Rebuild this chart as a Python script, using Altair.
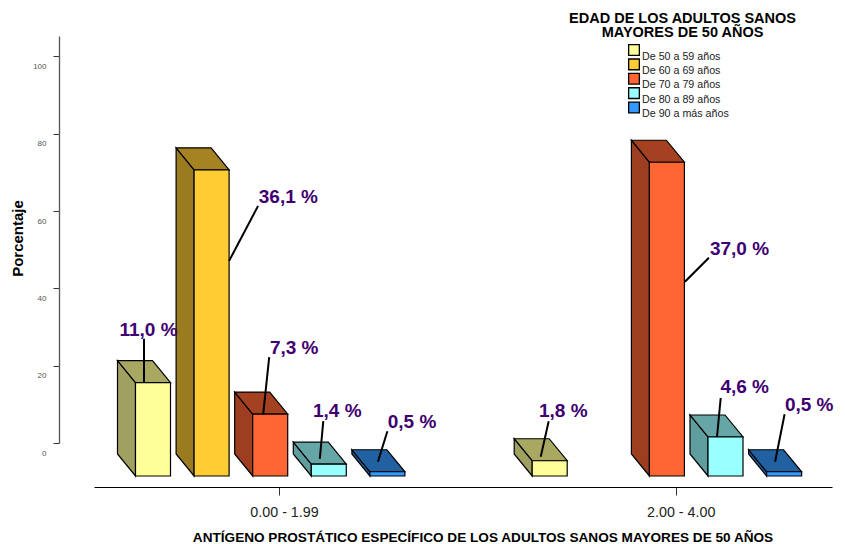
import altair as alt
import pandas as pd

# Percentages per PSA range and age band (None = no bar in that band)
AGE_BANDS = ["De 50 a 59 años", "De 60 a 69 años", "De 70 a 79 años", "De 80 a 89 años", "De 90 a más años"]
PSA_RANGES = ["0.00 - 1.99", "2.00 - 4.00"]
VALUES_LOW = [11.0, 36.1, 7.3, 1.4, 0.5]
VALUES_HIGH = [1.8, None, 37.0, 4.6, 0.5]
AXIS_TICKS = [0, 20, 40, 60, 80, 100]

# Face colours per age band
FRONT = ["#FFFF99", "#FFCC33", "#FF6633", "#99FFFF", "#3399FF"]
SIDE = ["#A0A060", "#9B7B1F", "#9C3E1F", "#5F9E9E", "#1F5F9E"]
TOP = ["#A8A862", "#A58222", "#A34121", "#66A6A6", "#2161A1"]

# Layout of the plot, in plot pixels
PLOT_W, PLOT_H = 786, 487
X_RANGE = [35, 773]
GROUP_TICK = [220.0, 616.7]
FIRST_SLOT = [76.5, 473.2]
SLOT_PITCH = 58.6
BAR_W = 35
DEPTH_X, DEPTH_Y = 18, 22
BASE_Y = 476
PX_PER_PCT = 8.48
KEY_SWATCH_X, KEY_TEXT_X = 575, 583
KEY_ROW_LAST = len(AGE_BANDS) - 1

# Leader lines: start and end offsets from each bar's front top-left corner (dx, dy)
LEADERS_LOW = [((8.5, 0), (8.5, -44)), ((35, 91), (64, 36)), ((10.5, 0), (16.5, -57)),
               ((8.5, -5.3), (12, -43)), ((8, -10), (17.5, -40.5))]
LEADERS_HIGH = [((8.5, -4), (16.5, -39.5)), None, ((35.5, 119.5), (59.5, 95.5)),
                ((9, 0), (12.7, -39)), ((8.5, -10), (18, -57.5))]
# Label left-centre offset from the leader's far end (dx, dy)
LABEL_GAP = [[(-24.5, -8.5), (0.7, -9.3), (0.7, -9), (-10.3, -10), (0.3, -9.6)],
             [(-9.7, -10.7), None, (1, -8.7), (-0.3, -10.6), (0.3, -9.6)]]

x_scale = alt.Scale(domain=X_RANGE, range=X_RANGE)
y_bar = alt.Scale(domain=[0, BASE_Y / PX_PER_PCT], range=[BASE_Y, 0])
y_axis_scale = alt.Scale(domain=[0, 105.3], range=[443, 36])
key_swatch_y = alt.Scale(domain=[0, KEY_ROW_LAST], range=[50, 107.5])
key_text_y = alt.Scale(domain=[0, KEY_ROW_LAST], range=[56.5, 114])

label_test = f"datum.value < 400 ? '{PSA_RANGES[0]}' : '{PSA_RANGES[1]}'"
x_axis = alt.Axis(
    values=GROUP_TICK, labelExpr=label_test, grid=False,
    title="ANTÍGENO PROSTÁTICO ESPECÍFICO DE LOS ADULTOS SANOS MAYORES DE 50 AÑOS",
    titleFont="Liberation Sans", titleFontSize=13.6, titleFontWeight="bold", titleColor="#000",
    titleX=423.5, titleY=50, titleBaseline="middle", titleAnchor="middle",
    labelFont="Liberation Sans", labelFontSize=14.3, labelColor="#222", labelPadding=10, labelOffset=5,
    domainColor="#000", domainWidth=1.2, tickColor="#333", tickSize=8, tickWidth=1,
)


def X(field):
    return alt.X(field, type="quantitative", scale=x_scale, axis=x_axis)


def Y(field):
    return alt.Y(field, type="quantitative", scale=y_bar, axis=None)


fronts, faces, leaders, labels = [], [], [], []
for g, (values, slot0, legs) in enumerate(zip([VALUES_LOW, VALUES_HIGH], FIRST_SLOT, [LEADERS_LOW, LEADERS_HIGH])):
    for s, v in enumerate(values):
        if v is None:
            continue
        f = slot0 + s * SLOT_PITCH
        d = DEPTH_Y / PX_PER_PCT
        bid = f"{g}-{s}"
        fronts.append(dict(x=f, x2=f + BAR_W, v=v, base=0, c=FRONT[s]))
        # Side face, then top face, as closed areas between two edges
        for px, a, b in [(f - DEPTH_X, v + d, d), (f, v, 0)]:
            faces.append(dict(id=bid + "s", x=px, y=a, y2=b, c=SIDE[s]))
        for px, a, b in [(f - DEPTH_X, v + d, v + d), (f, v + d, v),
                         (f + BAR_W - DEPTH_X, v + d, v), (f + BAR_W, v, v)]:
            faces.append(dict(id=bid + "t", x=px, y=a, y2=b, c=TOP[s]))
        (sx, sy), (ex, ey) = legs[s]
        leaders.append(dict(x=f + sx, x2=f + ex, y=v - sy / PX_PER_PCT, y2=v - ey / PX_PER_PCT))
        gx, gy = LABEL_GAP[g][s]
        labels.append(dict(x=f + ex + gx, y=v - (ey + gy) / PX_PER_PCT,
                           t=f"{v:.1f}".replace(".", ",") + " %"))

faces_layer = alt.Chart(pd.DataFrame(faces)).mark_area(
    orient="vertical", stroke="#000", strokeWidth=1.2, opacity=1
).encode(
    x=X("x"), y=Y("y"), y2=alt.Y2("y2"),
    fill=alt.Fill("c:N", scale=None),
    detail="id:N",
)

front_layer = alt.Chart(pd.DataFrame(fronts)).mark_rect(stroke="#000", strokeWidth=1.2).encode(
    x=X("x"), x2="x2", y=Y("v"), y2="base",
    fill=alt.Fill("c:N", scale=None),
)

leader_layer = alt.Chart(pd.DataFrame(leaders)).mark_rule(color="#000", strokeWidth=2).encode(
    x=X("x"), x2="x2", y=Y("y"), y2="y2",
)

label_layer = alt.Chart(pd.DataFrame(labels)).mark_text(
    align="left", baseline="middle", font="Liberation Sans", fontSize=19, fontWeight="bold", color="#3F0071",
).encode(x=X("x"), y=Y("y"), text="t:N")

# Percentage axis, on its own scale
axis_layer = alt.Chart(pd.DataFrame({"t": AXIS_TICKS})).mark_rule(opacity=0).encode(
    y=alt.Y(
        "t:Q", scale=y_axis_scale,
        axis=alt.Axis(
            values=AXIS_TICKS, grid=False, title="Porcentaje",
            titleFont="Liberation Sans", titleFontSize=15, titleFontWeight="bold", titleColor="#000",
            titleX=-42, titleY=238, titleAngle=270, titleBaseline="middle", titleAnchor="middle",
            labelFont="Liberation Sans", labelFontSize=8, labelColor="#555", labelPadding=7,
            labelBaseline="top", labelOffset=6, labelOverlap=False,
            domainColor="#555", domainWidth=1.3, tickColor="#333", tickSize=6, tickWidth=1,
        ),
    ),
)

# Age-band key: swatches sit a little above their labels
key_df = pd.DataFrame({
    "band": AGE_BANDS, "row": list(range(len(AGE_BANDS))), "c": FRONT,
    "sx": [KEY_SWATCH_X] * len(AGE_BANDS), "tx": [KEY_TEXT_X] * len(AGE_BANDS),
})
key_swatches = alt.Chart(key_df).mark_square(size=115, opacity=1, stroke="#000", strokeWidth=1.3).encode(
    x=X("sx"),
    y=alt.Y("row:Q", scale=key_swatch_y, axis=None),
    fill=alt.Fill("c:N", scale=None),
)
key_labels = alt.Chart(key_df).mark_text(
    align="left", baseline="middle", font="Liberation Sans", fontSize=10.7, color="#222",
).encode(
    x=X("tx"),
    y=alt.Y("row:Q", scale=key_text_y, axis=None),
    text="band:N",
)

legend_title = alt.Chart(pd.DataFrame({"t": ["EDAD DE LOS ADULTOS SANOS\nMAYORES DE 50 AÑOS"]})).mark_text(
    align="center", baseline="top", font="Liberation Sans", fontSize=14.5, fontWeight="bold",
    color="#000", lineBreak="\n", lineHeight=14.6,
).encode(x=alt.value(623.5), y=alt.value(11.5), text="t:N")

chart = alt.layer(
    axis_layer, faces_layer, front_layer, leader_layer, label_layer,
    key_swatches, key_labels, legend_title,
).resolve_scale(y="independent").properties(
    width=PLOT_W, height=PLOT_H,
    padding={"left": 59, "top": 0, "right": 0, "bottom": 57},
    autosize=alt.AutoSizeParams(type="none"),
    background="white",
).configure_view(stroke=None)

chart.save("out.html", embed_options={"renderer": "svg", "actions": False})
